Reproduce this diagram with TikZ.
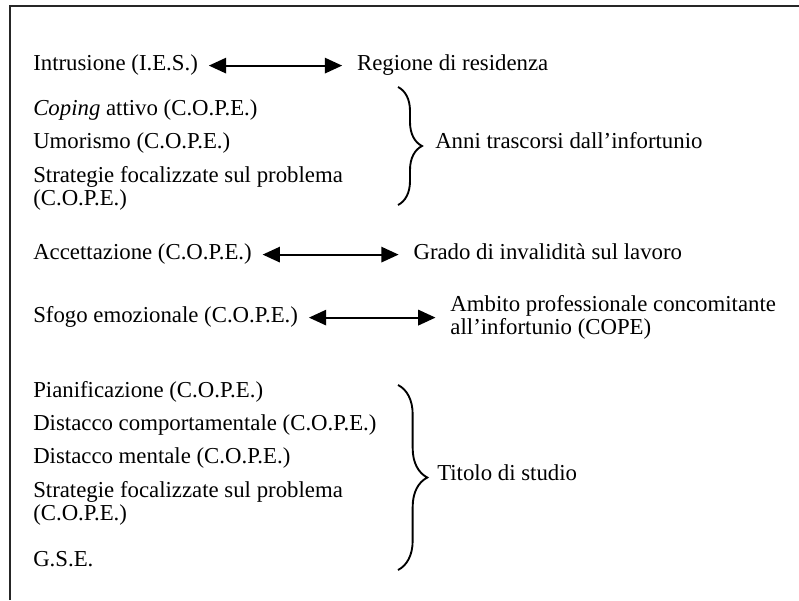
\documentclass[tikz,border=0pt]{standalone}
\usepackage{fontspec}
\setmainfont{Liberation Serif}
\usepackage{tikz}
\usetikzlibrary{arrows.meta, positioning, decorations.pathreplacing}
\tikzset{
    item/.style={anchor=base west, inner sep=0pt, text height=0.66em, text depth=0pt},
    itemtwo/.style={anchor=west, inner sep=0pt, align=left},
    target/.style={inner sep=0pt, text height=0.66em, text depth=0pt},
    biarrow/.style={{Triangle[length=13pt,width=11.5pt]}-{Triangle[length=13pt,width=11.5pt]}, line width=1.6pt, shorten <=8pt, shorten >=11pt},
    curly/.style={decorate, decoration={brace, amplitude=#1}, line width=1.4pt},
    curly/.default=18pt,
    frame/.style={line width=1.6pt, black!85},
}

\begin{document}
\begin{tikzpicture}[x=0.75pt, y=-0.75pt, font={\fontsize{17.1pt}{17.3pt}\selectfont}]
    \useasboundingbox (0,0) rectangle (799,600);
    % Frame (top and left only)
    \coordinate (fbl) at (10,600);
    \coordinate (ftl) at (10,6);
    \coordinate (ftr) at (799,6);
    \draw[frame] (fbl) -- (ftl) -- (ftr);

    % Intrusione <-> Regione
    \node[item] (ies) at (33,70) {Intrusione (I.E.S.)};
    \node[target, right=119pt of ies] (reg) {Regione di residenza};
    \draw[biarrow] (ies) -- (reg);

    % First group
    \node[item] (coping) at (33,115) {\textit{Coping} attivo (C.O.P.E.)};
    \node[item] (umor) at (33,148) {Umorismo (C.O.P.E.)};
    \node[itemtwo] (stratA) at (33,188) {Strategie focalizzate sul problema\\(C.O.P.E.)};
    \coordinate (bAtop) at (398,87);
    \coordinate (bAbot) at (398,205);
    \draw[curly] (bAtop) -- (bAbot);
    \node[item] (anni) at (435,148) {Anni trascorsi dall’infortunio};

    % Accettazione <-> Grado
    \node[item] (acc) at (33,259) {Accettazione (C.O.P.E.)};
    \node[target, right=121pt of acc] (grado) {Grado di invalidità sul lavoro};
    \draw[biarrow] (acc) -- (grado);

    % Sfogo <-> Ambito
    \node[item] (sfogo) at (33,322) {Sfogo emozionale (C.O.P.E.)};
    \node[itemtwo, right=114pt of sfogo] (ambito) {Ambito professionale concomitante\\all’infortunio (COPE)};
    \draw[biarrow] (sfogo) -- (ambito);

    % Second group
    \node[item] (pian) at (33,397) {Pianificazione (C.O.P.E.)};
    \node[item] (discomp) at (33,430) {Distacco comportamentale (C.O.P.E.)};
    \node[item] (disment) at (33,463) {Distacco mentale (C.O.P.E.)};
    \node[itemtwo] (stratB) at (33,503) {Strategie focalizzate sul problema\\(C.O.P.E.)};
    \node[item] (gse) at (33,566) {G.S.E.};
    \coordinate (bBtop) at (398,385);
    \coordinate (bBbot) at (398,570);
    \draw[curly=22pt] (bBtop) -- (bBbot);
    \node[item] (titolo) at (437,480) {Titolo di studio};
\end{tikzpicture}
\end{document}
